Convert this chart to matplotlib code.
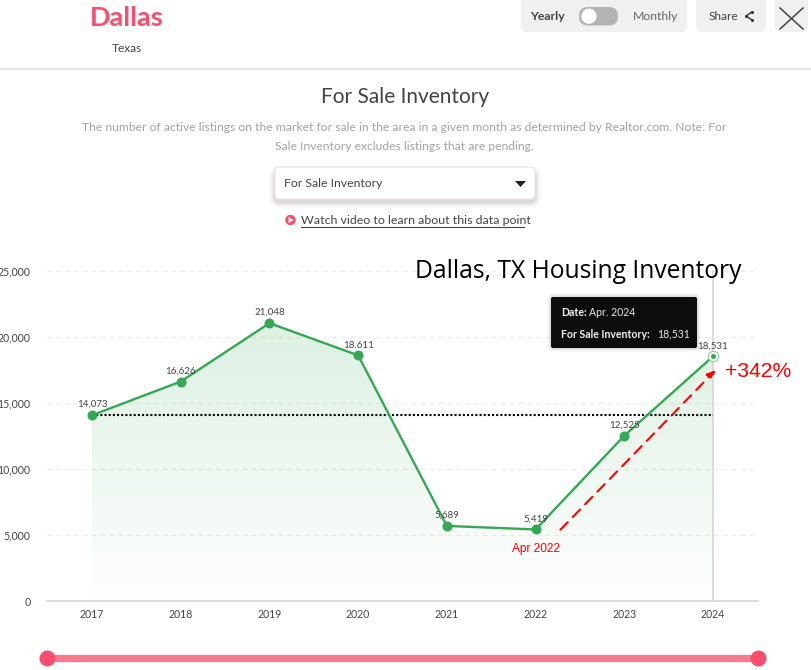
import numpy as np
import matplotlib
matplotlib.use("Agg")
import matplotlib.pyplot as plt
from matplotlib.colors import LinearSegmentedColormap
from matplotlib.patches import FancyBboxPatch, Polygon, Circle

years = [2017, 2018, 2019, 2020, 2021, 2022, 2023, 2024]
inventory = [14073, 16626, 21048, 18611, 5689, 5419, 12525, 18531]
y_ticks = [0, 5000, 10000, 15000, 20000, 25000]
baseline = 14073
arrow_start = (2022.28, 5400)
arrow_end = (2024.03, 17500)

GREEN = "#34a853"
PINK = "#fb4d6d"
W, H = 812, 670
plt.rcParams["font.family"] = ["Lato", "DejaVu Sans"]

fig = plt.figure(figsize=(W / 100, H / 100), dpi=100)

# ---- chart ----
ax = fig.add_axes([47 / W, (H - 601) / H, (758 - 47) / W, 330 / H])
px_per_year = (713 - 92) / 7
ax.set_xlim(2017 - 45 / px_per_year, 2024 + 45 / px_per_year)
ax.set_ylim(0, 25000)
for s in ("top", "right", "left"):
    ax.spines[s].set_visible(False)
ax.spines["bottom"].set_color("#d5d5d5")
ax.spines["bottom"].set_linewidth(1.2)
ax.set_xticks(years)
ax.set_yticks(y_ticks)
ax.set_yticklabels([f"{v:,}" for v in y_ticks])
ax.tick_params(axis="both", length=0, labelsize=7.6, labelcolor="#444444")
ax.tick_params(axis="x", pad=6)
ax.tick_params(axis="y", pad=12)
for v in y_ticks[1:]:
    ax.axhline(v, color="#ececec", lw=0.8, ls=(0, (4, 4)), zorder=1)

# area under the line fades towards the bottom of the plot
cmap = LinearSegmentedColormap.from_list(
    "fade", [(52 / 255, 168 / 255, 83 / 255, 0.0), (52 / 255, 168 / 255, 83 / 255, 0.17)]
)
grad = ax.imshow(
    np.linspace(1, 0.03, 256).reshape(-1, 1),
    extent=[2017, 2024, 0, max(inventory)],
    origin="upper",
    aspect="auto",
    cmap=cmap,
    vmin=0,
    vmax=1,
    zorder=1.5,
)
clip = Polygon(
    list(zip(years, inventory)) + [(years[-1], 0), (years[0], 0)],
    closed=True,
    transform=ax.transData,
    fc="none",
    ec="none",
)
ax.add_patch(clip)
grad.set_clip_path(clip)
ax.set_xlim(2017 - 45 / px_per_year, 2024 + 45 / px_per_year)
ax.set_ylim(0, 25000)

ax.plot([2024, 2024], [0, 25000], color="#d9d9d9", lw=1.3, zorder=2, clip_on=False)
ax.plot([years[0], years[-1]], [baseline, baseline], color="black", lw=1.5, ls=(0, (1, 1)), zorder=3)
ax.plot(years, inventory, color=GREEN, lw=1.7, zorder=4)
ax.plot(years[:-1], inventory[:-1], "o", color=GREEN, ms=7.2, mew=0, zorder=5)
ax.plot(years[-1], inventory[-1], "o", mfc="white", mec="#8fd0a2", ms=7.5, mew=0.8, zorder=5)
ax.plot(years[-1], inventory[-1], "o", color=GREEN, ms=3.6, mew=0, zorder=6)
for x, v in zip(years, inventory):
    ax.annotate(f"{v:,}", (x, v), xytext=(0, 4.4), textcoords="offset points",
                ha="center", va="bottom", fontsize=7.0, color="#444444", zorder=7)

# red callout for the rise since the low point
ax.annotate("", xy=arrow_end, xytext=arrow_start, zorder=8,
            arrowprops=dict(arrowstyle="-|>,head_width=0.22,head_length=0.5", color="#ff0000",
                            lw=1.5, ls=(0, (5, 3.5)), shrinkA=0, shrinkB=0))
ax.text(2022.0, 4380, "Apr 2022", ha="center", va="top", fontsize=8.6,
        color="#ff0000", family="Liberation Sans")
ax.text(2024.14, 17420, "+342%", ha="left", va="center", fontsize=15.2,
        color="#ff0000", family="Liberation Sans")

# ---- page furniture, laid out in pixels ----
ui = fig.add_axes([0, 0, 1, 1], zorder=10)
ui.set_xlim(0, W)
ui.set_ylim(H, 0)
ui.axis("off")
ui.patch.set_alpha(0)


def box(x0, y0, x1, y1, r, **kw):
    p = FancyBboxPatch((x0 + r, y0 + r), x1 - x0 - 2 * r, y1 - y0 - 2 * r,
                       boxstyle=f"round,pad={r},rounding_size={r}", **kw)
    ui.add_patch(p)


ui.text(127, 18.5, "Dallas", ha="center", va="center", fontsize=19.5, fontweight="bold", color=PINK)
ui.text(127, 48.5, "Texas", ha="center", va="center", fontsize=8.6, color="#444444")
ui.plot([0, W], [68.5, 68.5], color="#dcdcdc", lw=1.1)

box(521, -5, 687, 32, 6, fc="#f0f0f0", ec="none")
ui.text(547, 16, "Yearly", ha="center", va="center", fontsize=8.8, fontweight="bold", color="#444444")
ui.text(656, 16, "Monthly", ha="center", va="center", fontsize=8.8, color="#666666")
box(579, 7, 618, 25.5, 9, fc="#b3b3b3", ec="none")
ui.add_patch(Circle((589, 16.2), 8.2, fc="white", ec="#b3b3b3", lw=0.8))

box(696, -5, 766, 32, 6, fc="#f0f0f0", ec="none")
ui.text(723, 16, "Share", ha="center", va="center", fontsize=8.6, color="#444444")
ui.plot([752, 746, 752], [12, 16, 20], color="#333333", lw=1)
ui.plot([752, 746, 752], [12, 16, 20], "o", color="#333333", ms=2.2, mew=0)

box(775, -5, 808, 32, 6, fc="#f0f0f0", ec="none")
ui.plot([780, 803], [8, 29], color="#444444", lw=1.1)
ui.plot([780, 803], [29, 8], color="#444444", lw=1.1)

ui.text(405, 97, "For Sale Inventory", ha="center", va="center", fontsize=15, color="#444444")
ui.text(404.5, 127.5,
        "The number of active listings on the market for sale in the area in a given month as determined by Realtor.com. Note: For",
        ha="center", va="center", fontsize=8.75, color="#a3a3a3")
ui.text(404.5, 146.5, "Sale Inventory excludes listings that are pending.",
        ha="center", va="center", fontsize=8.75, color="#a3a3a3")

# dropdown with a soft shadow
for i, a in zip(range(6, 0, -1), [0.02, 0.025, 0.03, 0.035, 0.04, 0.05]):
    box(275 - i, 169 - i + 3, 535 + i, 199 + i + 3, 5 + i, fc=(0.35, 0.2, 0.35, a), ec="none")
box(275, 167, 535, 199, 4, fc="white", ec="#e6e6e6", lw=0.8)
ui.text(284, 183.5, "For Sale Inventory", ha="left", va="center", fontsize=8.8, color="#444444")
ui.add_patch(Polygon([(515, 181), (526, 181), (520.5, 187)], closed=True, fc="#222222", ec="none"))

ui.add_patch(Circle((290.5, 220), 5.2, fc=PINK, ec="none"))
ui.add_patch(Polygon([(288.5, 217), (288.5, 223), (293.5, 220)], closed=True, fc="white", ec="none"))
ui.text(301, 220, "Watch video to learn about this data point", ha="left", va="center",
        fontsize=8.9, color="#444444")
ui.plot([301, 524], [226.5, 226.5], color="#444444", lw=0.8)

ui.text(415, 271.5, "Dallas, TX Housing Inventory", ha="left", va="center", fontsize=17.7,
        color="black", family="Open Sans")

# tooltip for the hovered point
for i, a in zip(range(4, 0, -1), [0.02, 0.03, 0.04, 0.05]):
    box(551 - i, 297 - i, 697 + i, 348 + i, 2 + i, fc=(0, 0, 0, a), ec="none")
box(551, 297, 697, 348, 2, fc="#0d0d0d", ec="none")
t = ui.text(561, 313, "Date:", ha="left", va="center", fontsize=7.6, fontweight="bold", color="#f2f2f2")
ui.text(589, 313, "Apr. 2024", ha="left", va="center", fontsize=7.6, color="#e6e6e6")
ui.text(561, 334, "For Sale Inventory:", ha="left", va="center", fontsize=7.6, fontweight="bold", color="#f2f2f2")
ui.text(657, 334, "18,531", ha="left", va="center", fontsize=7.6, color="#e6e6e6")

# range slider under the chart
ui.plot([47, 758], [657.5, 657.5], color="#f87a8e", lw=5.2, solid_capstyle="butt")
ui.plot([47, 758], [657.5, 657.5], "o", color=PINK, ms=11.5, mew=0)

fig.savefig("out.png", dpi=100)
